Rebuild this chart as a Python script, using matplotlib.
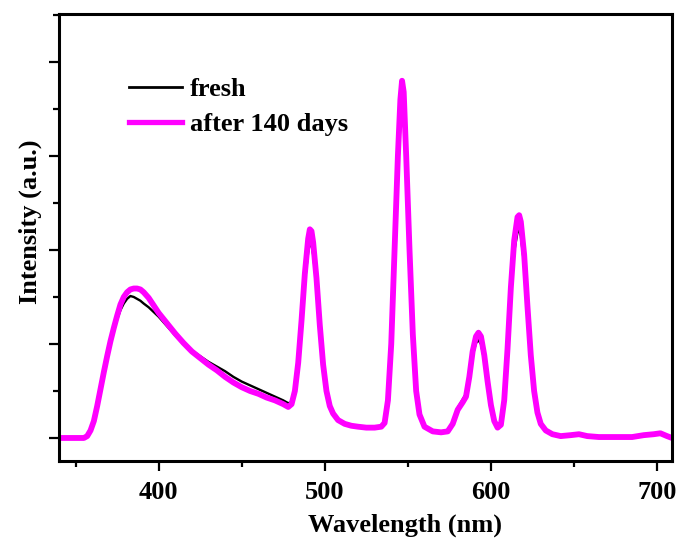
import matplotlib

matplotlib.use("Agg")
import matplotlib.pyplot as plt
from matplotlib.ticker import MultipleLocator

# Emission spectra, intensity in arbitrary units
wavelength = [
    340, 350, 355, 357, 359, 361, 363, 365, 367, 369, 371, 373, 375, 377, 379,
    381, 383, 385, 387, 389, 391, 394, 397, 400, 405, 410, 415, 420, 425, 430,
    435, 440, 445, 450, 455, 460, 465, 470, 475, 478, 480, 482, 484, 486, 488,
    490, 491, 492, 493, 495, 497, 499, 501, 503, 505, 508, 512, 516, 520, 525,
    530, 534, 536, 538, 540, 542, 544, 545.5, 546.5, 547.5, 549, 551, 553, 555,
    557, 560, 565, 570, 574, 577, 580, 583, 585, 587, 589, 591, 592.5, 594,
    596, 598, 600, 602, 604, 606, 608, 610, 612, 614, 616, 617, 618, 620, 622,
    624, 626, 628, 630, 633, 637, 642, 648, 653, 658, 665, 675, 685, 692, 698,
    702, 706, 709,
]

fresh = [
    0.00, 0.00, 0.00, 0.02, 0.08, 0.18, 0.34, 0.52, 0.70, 0.86, 1.01, 1.14, 1.26, 1.36, 1.43,
    1.48, 1.51, 1.50, 1.48, 1.46, 1.43, 1.39, 1.34, 1.29, 1.19, 1.09, 1.00, 0.93, 0.87, 0.81,
    0.76, 0.71, 0.65, 0.60, 0.56, 0.52, 0.48, 0.44, 0.40, 0.37, 0.38, 0.50, 0.78, 1.20, 1.65,
    1.98, 2.07, 2.06, 1.95, 1.62, 1.16, 0.76, 0.49, 0.34, 0.26, 0.19, 0.15, 0.13, 0.12, 0.11,
    0.11, 0.12, 0.16, 0.40, 0.98, 1.90, 2.80, 3.35, 3.50, 3.40, 2.85, 1.92, 1.06, 0.49,
    0.25, 0.12, 0.07, 0.06, 0.07, 0.16, 0.32, 0.41, 0.47, 0.66, 0.88, 1.01, 1.04, 1.00,
    0.83, 0.57, 0.34, 0.18, 0.11, 0.14, 0.39, 0.92, 1.52, 1.98, 2.19, 2.21, 2.15, 1.84, 1.33,
    0.85, 0.49, 0.27, 0.15, 0.08, 0.04, 0.02, 0.03, 0.04, 0.02, 0.01, 0.01, 0.01, 0.03, 0.04,
    0.05, 0.02, 0.00,
]

aged = [
    0.00, 0.00, 0.00, 0.02, 0.08, 0.18, 0.34, 0.52, 0.70, 0.87, 1.03, 1.17, 1.30, 1.42, 1.50,
    1.55, 1.58, 1.59, 1.59, 1.58, 1.55, 1.49, 1.41, 1.33, 1.22, 1.11, 1.01, 0.92, 0.85, 0.78,
    0.72, 0.65, 0.59, 0.54, 0.50, 0.47, 0.43, 0.40, 0.36, 0.33, 0.36, 0.50, 0.80, 1.25, 1.75,
    2.12, 2.22, 2.20, 2.08, 1.70, 1.20, 0.78, 0.50, 0.34, 0.26, 0.19, 0.15, 0.13, 0.12, 0.11,
    0.11, 0.12, 0.16, 0.40, 1.00, 2.00, 3.00, 3.60, 3.80, 3.68, 3.00, 2.00, 1.10, 0.50,
    0.25, 0.12, 0.07, 0.06, 0.07, 0.15, 0.30, 0.38, 0.44, 0.65, 0.92, 1.08, 1.12, 1.08,
    0.88, 0.60, 0.35, 0.18, 0.11, 0.14, 0.40, 0.95, 1.60, 2.10, 2.35, 2.37, 2.30, 1.95, 1.40,
    0.88, 0.50, 0.27, 0.15, 0.08, 0.04, 0.02, 0.03, 0.04, 0.02, 0.01, 0.01, 0.01, 0.03, 0.04,
    0.05, 0.02, 0.00,
]

series_labels = ["fresh", "after 140 days"]
series_colors = ["black", "#ff00ff"]

plt.rcParams["font.family"] = "Liberation Serif"
plt.rcParams["font.weight"] = "bold"
plt.rcParams["font.size"] = 19


def plot_spectra():
    fig = plt.figure(figsize=(6.81, 5.39), dpi=100)
    ax = fig.add_axes([0.0866, 0.1447, 0.9002, 0.8293])

    ax.plot(wavelength, fresh, color=series_colors[0], lw=1.7,
            solid_joinstyle="round", label=series_labels[0])
    ax.plot(wavelength, aged, color=series_colors[1], lw=4.2,
            solid_joinstyle="round", label=series_labels[1])

    ax.set_xlim(340, 709)
    ax.set_ylim(-0.245, 4.51)
    ax.xaxis.set_major_locator(MultipleLocator(100))
    ax.xaxis.set_minor_locator(MultipleLocator(50))
    ax.yaxis.set_major_locator(MultipleLocator(1))
    ax.yaxis.set_minor_locator(MultipleLocator(0.5))
    ax.set_yticklabels([])

    ax.tick_params(which="both", direction="out", width=1.6, top=False, right=False)
    ax.tick_params(which="major", length=7)
    ax.tick_params(which="minor", length=4.5)
    ax.tick_params(axis="x", pad=7.5)
    for spine in ax.spines.values():
        spine.set_linewidth(2.2)

    ax.set_xlabel("Wavelength (nm)", fontweight="bold", labelpad=7, x=0.565)
    ax.set_ylabel("Intensity (a.u.)", fontweight="bold", labelpad=2, y=0.535)

    leg = ax.legend(loc="upper left", bbox_to_anchor=(0.115, 0.857), frameon=False,
                    handlelength=2.0, handletextpad=0.3, labelspacing=0.42,
                    borderpad=0, borderaxespad=0)
    leg.get_lines()[0].set_linewidth(2.0)
    leg.get_lines()[1].set_linewidth(3.8)
    return fig


if __name__ == "__main__":
    fig = plot_spectra()
    fig.savefig("out.png", dpi=100)
